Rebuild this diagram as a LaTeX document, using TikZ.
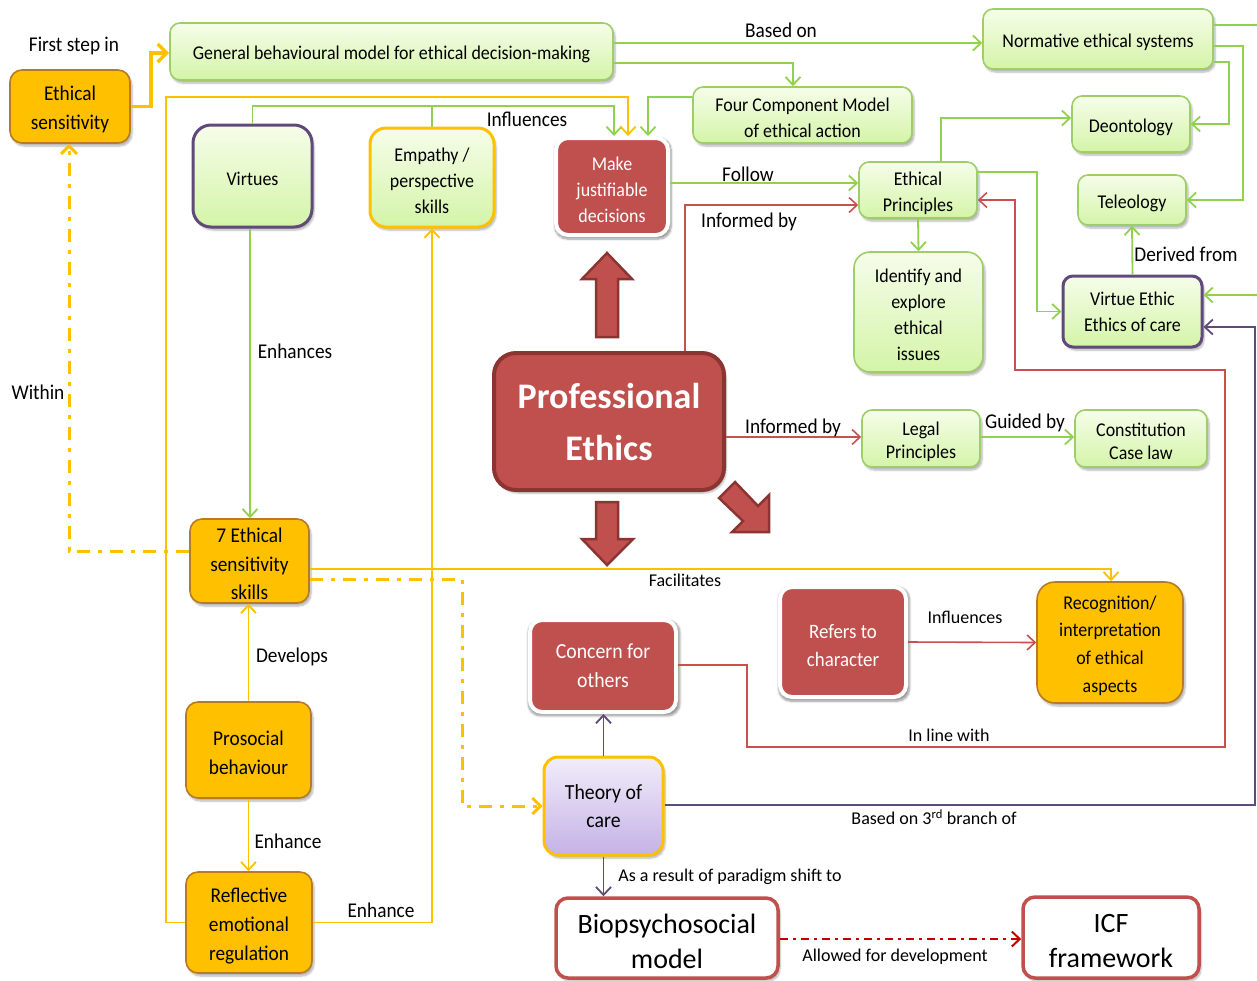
\documentclass[tikz,border=0pt]{standalone}
\usepackage{fontspec}
\setmainfont{Carlito}[FakeStretch=0.92]
\newfontfamily\widefont{Carlito}
\usetikzlibrary{arrows.meta,shadows.blur,calc}
\newcommand\fsz[2]{\fontsize{#1}{#2}\selectfont}
% strut on a box's first line: sets the text block slightly lower in its box
\newcommand\st{\rule{0pt}{\dimexpr0.75em+5pt\relax}}

\definecolor{gborder}{RGB}{158,206,104}
\definecolor{gtop}{RGB}{246,253,234}
\definecolor{gbot}{RGB}{212,244,168}
\definecolor{gline}{RGB}{146,208,80}
\definecolor{ofill}{RGB}{255,192,0}
\definecolor{oborder}{RGB}{185,122,40}
\definecolor{oline}{RGB}{255,192,0}
\definecolor{rfill}{RGB}{192,80,77}
\definecolor{rdark}{RGB}{140,52,50}
\definecolor{rline}{RGB}{200,80,77}
\definecolor{rdash}{RGB}{192,0,0}
\definecolor{pborder}{RGB}{96,74,123}
\definecolor{ptop}{RGB}{242,237,250}
\definecolor{pbot}{RGB}{196,178,230}

\begin{document}
\begin{tikzpicture}[x=1pt,y=-1pt,
  box/.style={rectangle, rounded corners=10pt, align=center, inner sep=0pt, font=\fsz{19.5}{26}},
  shadowed/.style={blur shadow={shadow xshift=2pt, shadow yshift=-3pt, shadow blur steps=6, shadow opacity=30}},
  glow/.style={blur shadow={shadow xshift=1pt, shadow yshift=-2pt, shadow scale=1.04, shadow blur steps=8, shadow opacity=40}},
  gbox/.style={box, shadowed, draw=gborder, line width=1.6pt, top color=gtop, bottom color=gbot},
  obox/.style={box, shadowed, rounded corners=12pt, draw=oborder, line width=1.6pt, fill=ofill, font=\fsz{21}{28.5}},
  rbox/.style={box, glow, rounded corners=12pt, draw=white, line width=4pt, fill=rfill, text=white},
  pebox/.style={box, shadowed, rounded corners=22pt, draw=rdark, line width=4pt, fill=rfill, text=white, font=\widefont\bfseries\fsz{36}{52}},
  tocbox/.style={box, shadowed, rounded corners=14pt, draw=oline, line width=3pt, top color=ptop, bottom color=pbot, font=\fsz{21.5}{28}},
  wbox/.style={box, shadowed, rounded corners=12pt, draw=rfill, line width=3.5pt, fill=white, font=\widefont\fsz{28}{35}},
  lab/.style={inner sep=0pt, font=\fsz{21}{24}},
  slab/.style={inner sep=0pt, font=\widefont\fsz{18}{20}},
  tip/.style={-{Straight Barb[length=8pt,width=15pt]}},
  gl/.style={draw=gline, line width=1.8pt},
  ga/.style={gl, tip},
  ol/.style={draw=oline, line width=1.8pt},
  oa/.style={ol, tip},
  othick/.style={draw=oline, line width=3.5pt, -{Straight Barb[length=9pt,width=18pt]}},
  odd/.style={draw=oline, line width=3pt, dash pattern=on 13pt off 8pt on 4pt off 8pt, -{Straight Barb[length=8pt,width=16pt]}},
  ra/.style={draw=rline, line width=1.6pt, tip},
  pa/.style={draw=pborder, line width=1.8pt, tip},
  rdd/.style={draw=rdash, line width=2pt, dash pattern=on 8pt off 5pt on 3pt off 5pt, tip},
  blockarrow/.style={fill=rfill, draw=rdark, line width=2.5pt, line join=miter}
]
\useasboundingbox (0,0) rectangle (1257,980);

% ---- boxes ----
\node[obox, minimum width=120pt, minimum height=73pt] (es) at (70,106.5) {\st Ethical\\sensitivity};
\node[gbox, minimum width=443pt, minimum height=57pt] (gen) at (391.5,51.5) {\st General behavioural model for ethical decision-making};
\node[gbox, minimum width=230pt, minimum height=60pt] (norm) at (1098,39) {\st Normative ethical systems};
\node[gbox, minimum width=219pt, minimum height=56pt] (four) at (802.5,115) {\st Four Component Model\\of ethical action};
\node[gbox, minimum width=118pt, minimum height=56pt] (deon) at (1131,124) {\st Deontology};
\node[gbox, minimum width=118pt, minimum height=56pt] (ep) at (918,190) {\st Ethical\\Principles};
\node[gbox, minimum width=108pt, minimum height=50pt] (tel) at (1132,200) {\st Teleology};
\node[gbox, rounded corners=16pt, minimum width=129pt, minimum height=120pt] (ident) at (918.5,312) {\st Identify and\\explore\\ethical\\issues};
\node[gbox, draw=pborder, line width=3pt, minimum width=139pt, minimum height=71pt] (vir) at (1132.5,311.5) {Virtue Ethic\\Ethics of care};
\node[gbox, draw=pborder, line width=3pt, rounded corners=18pt, minimum width=119pt, minimum height=102pt] (virtues) at (252.5,176) {\st Virtues};
\node[gbox, draw=oline, line width=3pt, rounded corners=16pt, minimum width=124pt, minimum height=99pt] (emp) at (432,177.5) {\st Empathy /\\perspective\\skills};
\node[rbox, minimum width=112pt, minimum height=97pt] (mjd) at (612,186.5) {\st Make\\justifiable\\decisions};
\node[pebox, minimum width=230pt, minimum height=137pt] (pe) at (609,421.5) {Professional\\Ethics};
\node[gbox, font=\fsz{19.5}{23}, minimum width=118pt, minimum height=57pt] (legal) at (921,438.5) {\st Legal\\Principles};
\node[gbox, font=\fsz{19.5}{23}, minimum width=132pt, minimum height=57pt] (const) at (1141,438.5) {\st Constitution\\Case law};
\node[obox, minimum width=119pt, minimum height=84pt] (ses) at (249.5,561) {\st 7 Ethical\\sensitivity\\skills};
\node[obox, font=\fsz{21}{29}, minimum width=125pt, minimum height=96pt] (pro) at (248.5,750) {\st Prosocial\\behaviour};
\node[obox, font=\fsz{21}{29}, minimum width=126pt, minimum height=101pt] (ref) at (249,922.5) {\st Reflective\\emotional\\regulation};
\node[rbox, font=\fsz{21.5}{29}, minimum width=146pt, minimum height=92pt] (con) at (603,666) {Concern for\\others};
\node[rbox, font=\fsz{20.5}{28}, minimum width=126pt, minimum height=110pt] (chr) at (843,642) {\st Refers to\\character};
\node[obox, font=\fsz{19.5}{27.7}, rounded corners=18pt, minimum width=146pt, minimum height=121pt] (rec) at (1110,642.5) {\st Recognition/\\interpretation\\of ethical\\aspects};
\node[tocbox, minimum width=119pt, minimum height=98pt] (toc) at (603.5,806) {Theory of\\care};
\node[wbox, minimum width=222pt, minimum height=80pt] (bio) at (667,938) {\st Biopsychosocial\\model};
\node[wbox, minimum width=176pt, minimum height=81pt] (icf) at (1111,937.5) {\st ICF\\framework};

% ---- block arrows around Professional Ethics ----
\draw[blockarrow] (596,337) -- (596,279) -- (582,279) -- (607,253) -- (632,279) -- (618,279) -- (618,337) -- cycle;
\draw[blockarrow] (596,502) -- (596,539) -- (582,539) -- (607,565) -- (633,539) -- (618,539) -- (618,502) -- cycle;
\draw[blockarrow] (719,498) -- (743,521) -- (732,532) -- (769,532) -- (769,495) -- (758,506) -- (735,482) -- cycle;

% ---- connectors ----
\draw[othick] (es.east) -- ++(20,0) |- (gen.west |- 0,53);
\draw[ga] (gen.east |- 0,43) -- (norm.west |- 0,43);
\draw[ga] (gen.east |- 0,63) -| (four.north -| 793,0);
\draw[ga] (norm.east |- 0,62) -- (1229,62) |- (deon.east);
\draw[ga] (norm.east |- 0,46) -- (1243,46) |- (tel.east);
\draw[ga] (norm.east |- 0,25) -- (1262,25) |- (vir.east |- 0,295);
\draw[ga] (ep.north -| 941,0) |- (deon.west |- 0,118);
\draw[ga] (ep.east |- 0,172) -- (1037,172) |- (vir.west);
\draw[ga] (ep.south) -- (ident.north);
\draw[ga] (vir.north) -- (tel.south);
\draw[ga] (mjd.east |- 0,183) -- (ep.west |- 0,183);
\draw[ga] (four.west |- 0,97) -| (mjd.north -| 648,0);
\draw[ga] (virtues.north) -- (virtues.north |- 0,106) -| (mjd.north -| 614,0);
\draw[gl] (emp.north) -- (emp.north |- 0,106);
\draw[oa] (ref.west) -| (166,97) -| (mjd.north -| 628,0);
\draw[ga] (virtues.south -| 250,0) -- (ses.north -| 250,0);
\draw[oa] (ref.east) -| (emp.south);
\draw[oa] (pro.north) -- (pro.north |- ses.south);
\draw[oa] (pro.south) -- (pro.south |- ref.north);
\draw[odd] (ses.west |- 0,551) -| (es.south -| 69,0);
\draw[oa] (ses.east |- 0,569) -| (rec.north -| 1111,0);
\draw[odd] (ses.east |- 0,579) -| (462,806) -- (toc.west |- 0,806);
\draw[ra] (pe.north -| 685,0) |- (ep.west |- 0,205);
\draw[ra] (pe.east |- 0,437) -- (legal.west |- 0,437);
\draw[ga] (legal.east |- 0,437) -- (const.west |- 0,437);
\draw[ra] (chr.east) -- (rec.west);
\draw[ra] (con.east |- 0,665) -| (747,747) -| (1225,370) -| (1015,200) -- (ep.east |- 0,200);
\draw[pa] (toc.north) -- (toc.north |- con.south);
\draw[pa] (toc.south) -- (toc.south |- bio.north);
\draw[pa] (toc.east |- 0,805) -| (1255,327) -- (vir.east |- 0,327);
\draw[rdd] (bio.east |- 0,939) -- (icf.west |- 0,939);

% ---- connector labels ----
\node[lab] (t1) at (74,46) {First step in};
\node[lab] (t2) at (781,30) {Based on};
\node[lab] (t3) at (527,119) {Influences};
\node[lab] (t4) at (748,174) {Follow};
\node[lab] (t5) at (749,222) {Informed by};
\node[lab] (t6) at (1186,254) {Derived from};
\node[lab] (t7) at (295,351) {Enhances};
\node[lab] (t8) at (38,392) {Within};
\node[lab] (t9) at (793,428) {Informed by};
\node[lab] (t10) at (1025,423) {Guided by};
\node[slab] (t11) at (685,580) {Facilitates};
\node[lab] (t12) at (292,657) {Develops};
\node[slab] (t13) at (965,617) {Influences};
\node[slab] (t14) at (949,735) {In line with};
\node[lab] (t15) at (288,841) {Enhance};
\node[slab] (t16) at (934,817) {Based on 3\textsuperscript{rd} branch of};
\node[slab] (t17) at (730,877) {As a result of paradigm shift to};
\node[lab] (t18) at (381,910) {Enhance};
\node[slab] (t19) at (895,957) {Allowed for development};
\end{tikzpicture}
\end{document}
